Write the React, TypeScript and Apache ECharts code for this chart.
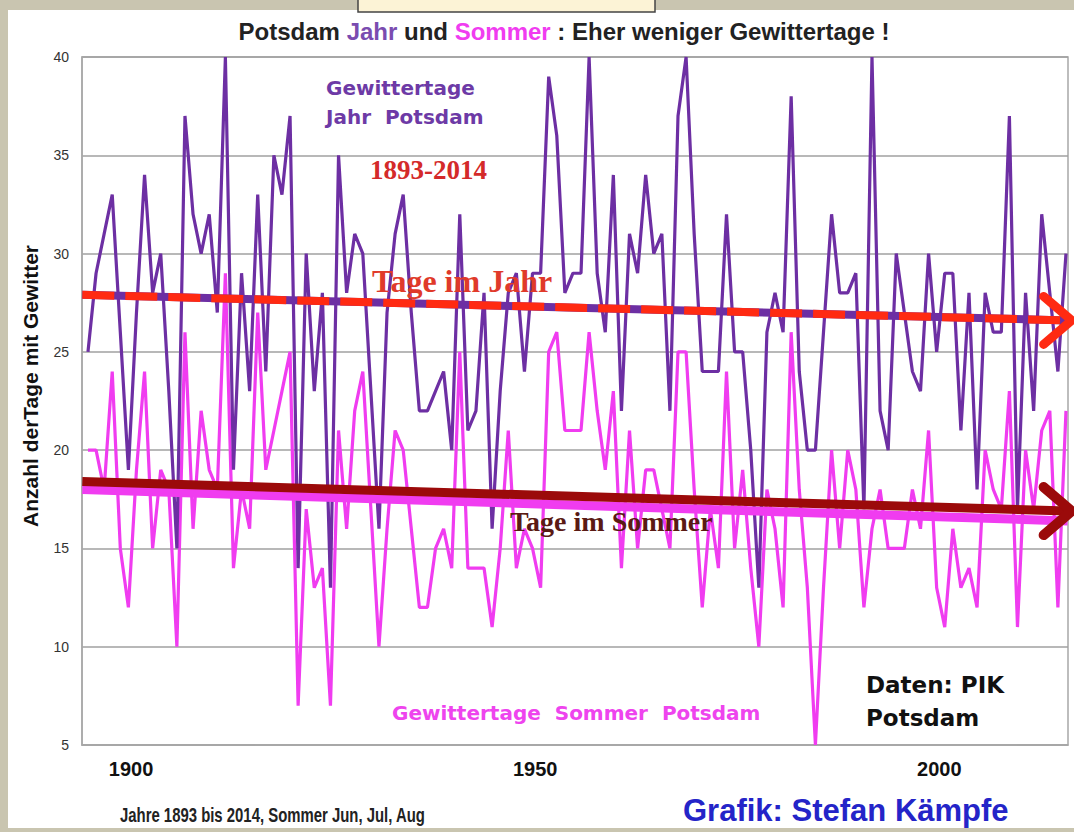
import React, { useEffect, useRef } from "react";
import * as echarts from "echarts";

const startYear = 1893;

// Gewittertage pro Jahr, 1893-2014
const jahr = [
  25, 29, 31, 33, 26, 19, 27, // 1893-1899
  34, 28, 30, 23, 15, 37, 32, 30, 32, 27, // 1900-1909
  40, 19, 29, 23, 33, 24, 35, 33, 37, 14, // 1910-1919
  30, 23, 28, 13, 35, 28, 31, 30, 23, 16, // 1920-1929
  27, 31, 33, 27, 22, 22, 23, 24, 20, 32, // 1930-1939
  21, 22, 28, 16, 23, 28, 29, 24, 29, 29, // 1940-1949
  39, 36, 28, 29, 29, 40, 29, 26, 34, 22, // 1950-1959
  31, 29, 34, 30, 31, 22, 37, 40, 31, 24, // 1960-1969
  24, 24, 32, 25, 25, 20, 13, 26, 28, 26, // 1970-1979
  38, 24, 20, 20, 26, 32, 28, 28, 29, 17, // 1980-1989
  40, 22, 20, 30, 27, 24, 23, 30, 25, 29, // 1990-1999
  29, 21, 28, 18, 28, 26, 26, 37, 17, 28, // 2000-2009
  22, 32, 28, 24, 30, // 2010-2014
];

// Gewittertage im Sommer (Jun, Jul, Aug), 1893-2014
const sommer = [
  20, 20, 18, 24, 15, 12, 19, // 1893-1899
  24, 15, 19, 18, 10, 26, 16, 22, 19, 18, // 1900-1909
  29, 14, 18, 16, 27, 19, 21, 23, 25, 7, // 1910-1919
  17, 13, 14, 7, 21, 16, 22, 24, 17, 10, // 1920-1929
  16, 21, 20, 16, 12, 12, 15, 16, 14, 25, // 1930-1939
  14, 14, 14, 11, 15, 21, 14, 16, 15, 13, // 1940-1949
  25, 26, 21, 21, 21, 26, 22, 19, 23, 14, // 1950-1959
  21, 15, 19, 19, 17, 15, 25, 25, 18, 12, // 1960-1969
  17, 14, 24, 15, 19, 14, 10, 18, 16, 12, // 1970-1979
  26, 18, 13, 5, 13, 20, 15, 20, 18, 12, // 1980-1989
  16, 18, 15, 15, 15, 18, 16, 21, 13, 11, // 1990-1999
  16, 13, 14, 12, 20, 18, 17, 23, 11, 20, // 2000-2009
  17, 21, 22, 12, 22, // 2010-2014
];

const xLabelYears = [1900, 1950, 2000];
const yTickValues = [5, 10, 15, 20, 25, 30, 35, 40];

// trend arrows: [startYear, startValue, endYear, endValue]
const trendJahr = [1892.3, 27.9, 2014.7, 26.6];
const trendSommerPink = [1892.3, 18.0, 2014.2, 16.4];
const trendSommerRed = [1892.3, 18.4, 2014.7, 16.9];

const PURPLE = "#6d2fa3";
const MAGENTA = "#f03cf0";
const RED = "#ff2a12";
const DARKRED = "#9b0a0a";

function toPairs(vals: number[]) {
  return vals.map((v, i) => [startYear + i, v]);
}

function arrowItem(kind: string) {
  return (params: any, api: any) => {
    const p0 = api.coord([api.value(0), api.value(1)]);
    const p1 = api.coord([api.value(2), api.value(3)]);
    const children: any[] = [];
    const chevron = (color: string, w: number) => ({
      type: "polyline",
      shape: {
        points: [
          [p1[0] - 28, p1[1] - 24],
          [p1[0], p1[1]],
          [p1[0] - 28, p1[1] + 24],
        ],
      },
      style: { stroke: color, lineWidth: w, fill: null, lineCap: "round", lineJoin: "round" },
    });
    if (kind === "jahr") {
      children.push({
        type: "line",
        shape: { x1: p0[0], y1: p0[1], x2: p1[0] - 4, y2: p1[1] },
        style: { stroke: PURPLE, lineWidth: 8 },
      });
      children.push({
        type: "line",
        shape: { x1: p0[0], y1: p0[1], x2: p1[0] - 4, y2: p1[1] },
        style: { stroke: RED, lineWidth: 8, lineDash: [32, 11] },
      });
      children.push(chevron(RED, 9));
    } else if (kind === "pink") {
      children.push({
        type: "line",
        shape: { x1: p0[0], y1: p0[1], x2: p1[0], y2: p1[1] },
        style: { stroke: MAGENTA, lineWidth: 9 },
      });
    } else {
      children.push({
        type: "line",
        shape: { x1: p0[0], y1: p0[1], x2: p1[0] - 4, y2: p1[1] },
        style: { stroke: DARKRED, lineWidth: 9 },
      });
      children.push(chevron(DARKRED, 10));
    }
    return { type: "group", children };
  };
}

const FONT = "'Liberation Sans', Arial, sans-serif";
const WIDE = "'DejaVu Sans', Verdana, sans-serif";
const SERIF = "'Liberation Serif', 'Times New Roman', serif";

export default function App() {
  const ref = useRef<HTMLDivElement>(null);

  useEffect(() => {
    const chart = echarts.init(ref.current as HTMLDivElement, null, { renderer: "svg" });
    const option: any = {
      animation: false,
      backgroundColor: "transparent",
      grid: {
        left: 82,
        top: 57,
        width: 986,
        height: 688,
        show: true,
        borderColor: "#a8a8a8",
        borderWidth: 1.5,
        backgroundColor: "#ffffff",
      },
      xAxis: {
        type: "value",
        min: 1892.26,
        max: 2014.25,
        splitLine: { show: false },
        axisLine: { show: true, lineStyle: { color: "#a8a8a8", width: 1.5 } },
        axisTick: { show: false },
        axisLabel: {
          customValues: xLabelYears,
          formatter: (v: number) => String(v),
          margin: 14,
          fontFamily: FONT,
          fontWeight: "bold",
          fontSize: 20,
          color: "#111",
          padding: [0, 27, 0, 0],
        },
      },
      yAxis: {
        type: "value",
        min: 5,
        max: 40,
        interval: 5,
        axisLine: { show: true, lineStyle: { color: "#a8a8a8", width: 1.5 } },
        axisTick: { show: false },
        splitLine: { show: true, lineStyle: { color: "#a0a0a0", width: 1.5 } },
        axisLabel: {
          margin: 13,
          fontFamily: FONT,
          fontSize: 14,
          color: "#333",
          formatter: (v: number) => (yTickValues.includes(v) ? String(v) : ""),
        },
      },
      series: [
        {
          type: "line",
          data: toPairs(sommer),
          showSymbol: false,
          lineStyle: { color: MAGENTA, width: 3.2 },
          z: 2,
        },
        {
          type: "line",
          data: toPairs(jahr),
          showSymbol: false,
          lineStyle: { color: PURPLE, width: 3.2 },
          z: 3,
        },
        {
          type: "custom",
          renderItem: arrowItem("pink"),
          data: [trendSommerPink],
          clip: false,
          z: 4,
        },
        {
          type: "custom",
          renderItem: arrowItem("red"),
          data: [trendSommerRed],
          clip: false,
          z: 5,
        },
        {
          type: "custom",
          renderItem: arrowItem("jahr"),
          data: [trendJahr],
          clip: false,
          z: 5,
        },
      ],
      graphic: [
        {
          type: "rect",
          shape: { x: 358, y: -12, width: 297, height: 24 },
          style: { fill: "#fcf3d6", stroke: "#444", lineWidth: 1.5 },
        },
        {
          type: "text",
          x: 564,
          y: 31,
          style: {
            text: "Potsdam {j|Jahr} und {s|Sommer} : Eher weniger Gewittertage !",
            font: `bold 24px ${FONT}`,
            fill: "#222",
            align: "center",
            verticalAlign: "middle",
            rich: {
              j: { font: `bold 24px ${FONT}`, fill: "#7a4cb0" },
              s: { font: `bold 24px ${FONT}`, fill: "#f03cf0" },
            },
          },
        },
        {
          type: "text",
          x: 30,
          y: 386,
          rotation: Math.PI / 2,
          style: {
            text: "Anzahl derTage mit Gewitter",
            font: `bold 21px ${FONT}`,
            fill: "#111",
            align: "center",
            verticalAlign: "middle",
          },
        },
        {
          type: "text",
          x: 326,
          y: 88,
          style: {
            text: "Gewittertage",
            font: `bold 20px ${WIDE}`,
            fill: "#6d3aa6",
            verticalAlign: "middle",
          },
        },
        {
          type: "text",
          x: 326,
          y: 117,
          style: {
            text: "Jahr  Potsdam",
            font: `bold 20px ${WIDE}`,
            fill: "#6d3aa6",
            verticalAlign: "middle",
          },
        },
        {
          type: "text",
          x: 370,
          y: 170,
          style: {
            text: "1893-2014",
            font: `bold 27px ${SERIF}`,
            fill: "#d42a2a",
            verticalAlign: "middle",
          },
        },
        {
          type: "text",
          x: 372,
          y: 281,
          z: 10,
          style: {
            text: "Tage im Jahr",
            font: `bold 32px ${SERIF}`,
            fill: "#e03a2a",
            verticalAlign: "middle",
          },
        },
        {
          type: "text",
          x: 510,
          y: 521,
          z: 10,
          style: {
            text: "Tage im Sommer",
            font: `bold 28px ${SERIF}`,
            fill: "#5a1a14",
            verticalAlign: "middle",
          },
        },
        {
          type: "text",
          x: 392,
          y: 713,
          style: {
            text: "Gewittertage  Sommer  Potsdam",
            font: `bold 20px ${WIDE}`,
            fill: "#ee44ee",
            verticalAlign: "middle",
          },
        },
        {
          type: "text",
          x: 866,
          y: 685,
          style: {
            text: "Daten: PIK",
            font: `bold 23px ${WIDE}`,
            fill: "#111",
            verticalAlign: "middle",
          },
        },
        {
          type: "text",
          x: 866,
          y: 718,
          style: {
            text: "Potsdam",
            font: `bold 23px ${WIDE}`,
            fill: "#111",
            verticalAlign: "middle",
          },
        },
        {
          type: "text",
          x: 120,
          y: 815,
          scaleX: 0.745,
          style: {
            text: "Jahre 1893 bis 2014, Sommer Jun, Jul, Aug",
            font: `bold 20px ${FONT}`,
            fill: "#222",
            align: "left",
            verticalAlign: "middle",
          },
        },
        {
          type: "text",
          x: 683,
          y: 810,
          style: {
            text: "Grafik: Stefan Kämpfe",
            font: `bold 31px ${FONT}`,
            fill: "#2424c8",
            align: "left",
            verticalAlign: "middle",
          },
        },
      ],
    };
    chart.setOption(option);
    return () => chart.dispose();
  }, []);

  return (
    <div
      style={{
        position: "absolute",
        left: 0,
        top: 0,
        width: 1074,
        height: 832,
        background: "#c9c5b0",
        overflow: "hidden",
      }}
    >
      <div
        style={{
          position: "absolute",
          left: 8,
          top: 10,
          width: 1066,
          height: 818,
          background: "#ffffff",
        }}
      />
      <div ref={ref} style={{ position: "absolute", left: 0, top: 0, width: 1074, height: 832 }} />
    </div>
  );
}
